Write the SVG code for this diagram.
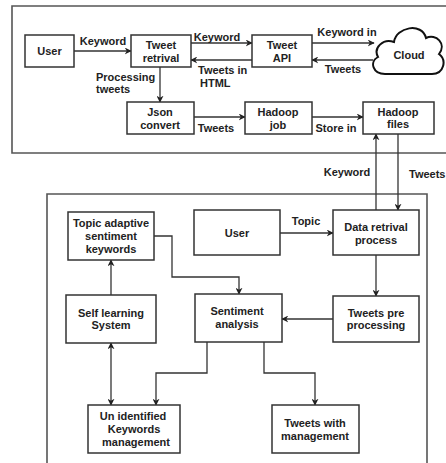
<svg xmlns="http://www.w3.org/2000/svg" width="446" height="463" viewBox="0 0 446 463">
  <defs>
    <style>
      .frame { fill: none; stroke: #555; stroke-width: 1.6; }
      .box { fill: #fff; stroke: #333; stroke-width: 1.5; }
      .wire { fill: none; stroke: #333; stroke-width: 1.3; }
      text { font-family: "Liberation Sans", Arial, sans-serif; font-size: 11px; font-weight: bold; fill: #222; text-anchor: middle; }
      .l { text-anchor: start; }
    </style>
    <marker id="arr" viewBox="0 0 10 10" refX="9" refY="5" markerWidth="7" markerHeight="7" orient="auto-start-reverse" markerUnits="userSpaceOnUse">
      <path d="M0,0 L10,5 L0,10 L3,5 z" fill="#222"/>
    </marker>
  </defs>
  <rect width="446" height="463" fill="#fff"/>

  <!-- outer frames -->
  <path class="frame" d="M447,6 H12 V153 H447"/>
  <path class="frame" d="M47,464 V194 H427 V464"/>

  <!-- connectors -->
  <g id="connectors">
    <line class="wire" x1="74" y1="51" x2="131" y2="51" marker-end="url(#arr)"/>
    <line class="wire" x1="191" y1="43" x2="252" y2="43" marker-end="url(#arr)"/>
    <line class="wire" x1="252" y1="60" x2="191" y2="60" marker-end="url(#arr)"/>
    <line class="wire" x1="312" y1="43" x2="374" y2="43" marker-end="url(#arr)"/>
    <line class="wire" x1="373" y1="60" x2="312" y2="60" marker-end="url(#arr)"/>
    <line class="wire" x1="160" y1="67" x2="160" y2="102" marker-end="url(#arr)"/>
    <line class="wire" x1="194" y1="117" x2="245" y2="117" marker-end="url(#arr)"/>
    <line class="wire" x1="312" y1="117" x2="363" y2="117" marker-end="url(#arr)"/>
    <line class="wire" x1="376" y1="210" x2="376" y2="134" marker-end="url(#arr)"/>
    <line class="wire" x1="398" y1="134" x2="398" y2="210" marker-end="url(#arr)"/>
    <line class="wire" x1="280" y1="233" x2="333" y2="233" marker-end="url(#arr)"/>
    <line class="wire" x1="376" y1="255" x2="376" y2="296" marker-end="url(#arr)"/>
    <line class="wire" x1="333" y1="319" x2="282" y2="319" marker-end="url(#arr)"/>
    <polyline class="wire" points="154,236 172,236 172,277 239,277 239,294" marker-end="url(#arr)"/>
    <line class="wire" x1="111" y1="295" x2="111" y2="260" marker-end="url(#arr)"/>
    <line class="wire" x1="111" y1="343" x2="111" y2="405" marker-start="url(#arr)" marker-end="url(#arr)"/>
    <polyline class="wire" points="207,342 207,373 156,373 156,405" marker-end="url(#arr)"/>
    <polyline class="wire" points="264,342 264,373 315,373 315,405" marker-end="url(#arr)"/>

    <text x="103" y="45">Keyword</text>
    <text x="217" y="41">Keyword</text>
    <text x="347" y="36">Keyword in</text>
    <text class="l" x="198" y="74">Tweets in</text>
    <text class="l" x="200" y="87">HTML</text>
    <text x="343" y="73">Tweets</text>
    <text class="l" x="96" y="81">Processing</text>
    <text class="l" x="96" y="93">tweets</text>
    <text x="216" y="132">Tweets</text>
    <text x="336" y="132">Store in</text>
    <text x="347" y="176">Keyword</text>
    <text class="l" x="409" y="178">Tweets</text>
    <text x="306" y="225">Topic</text>
  </g>

  <!-- upper section -->
  <g id="user-top">
    <rect class="box" x="25" y="35" width="49" height="32"/>
    <text x="49.5" y="55">User</text>
  </g>
  <g id="tweet-retrival">
    <rect class="box" x="131" y="35" width="60" height="32"/>
    <text x="161" y="49">Tweet</text>
    <text x="161" y="62">retrival</text>
  </g>
  <g id="tweet-api">
    <rect class="box" x="252" y="35" width="60" height="32"/>
    <text x="282" y="49">Tweet</text>
    <text x="282" y="62">API</text>
  </g>
  <g id="cloud">
    <path d="M385,74 C373,74 369,62 378,57 C373,48 383,38 394,42 C396,27 422,22 426,38 C436,33 447,44 439,54 C447,60 444,74 432,74 Z" fill="#fff" stroke="#111" stroke-width="2"/>
    <text x="409" y="59">Cloud</text>
  </g>
  <g id="json-convert">
    <rect class="box" x="127" y="102" width="67" height="32"/>
    <text x="160" y="116">Json</text>
    <text x="160" y="129">convert</text>
  </g>
  <g id="hadoop-job">
    <rect class="box" x="245" y="102" width="67" height="32"/>
    <text x="278" y="116">Hadoop</text>
    <text x="278" y="129">job</text>
  </g>
  <g id="hadoop-files">
    <rect class="box" x="363" y="102" width="71" height="32"/>
    <text x="398" y="116">Hadoop</text>
    <text x="398" y="128">files</text>
  </g>

  <!-- lower section -->
  <g id="topic-adaptive">
    <rect class="box" x="68" y="212" width="86" height="48"/>
    <text x="111" y="227">Topic adaptive</text>
    <text x="111" y="240">sentiment</text>
    <text x="111" y="253">keywords</text>
  </g>
  <g id="user-bottom">
    <rect class="box" x="194" y="210" width="86" height="45"/>
    <text x="237" y="237">User</text>
  </g>
  <g id="data-retrival">
    <rect class="box" x="333" y="210" width="86" height="45"/>
    <text x="376" y="231">Data retrival</text>
    <text x="376" y="244">process</text>
  </g>
  <g id="self-learning">
    <rect class="box" x="66" y="295" width="90" height="48"/>
    <text x="111" y="317">Self learning</text>
    <text x="111" y="329">System</text>
  </g>
  <g id="sentiment-analysis">
    <rect class="box" x="195" y="294" width="87" height="48"/>
    <text x="237" y="315">Sentiment</text>
    <text x="237" y="328">analysis</text>
  </g>
  <g id="tweets-pre">
    <rect class="box" x="333" y="296" width="86" height="46"/>
    <text x="376" y="317">Tweets pre</text>
    <text x="376" y="329">processing</text>
  </g>
  <g id="unidentified">
    <rect class="box" x="88" y="405" width="92" height="48"/>
    <text x="133" y="420">Un identified</text>
    <text x="134" y="433">Keywords</text>
    <text x="136" y="446">management</text>
  </g>
  <g id="tweets-with">
    <rect class="box" x="272" y="405" width="87" height="48"/>
    <text x="315" y="427">Tweets  with</text>
    <text x="315" y="440">management</text>
  </g>
</svg>
